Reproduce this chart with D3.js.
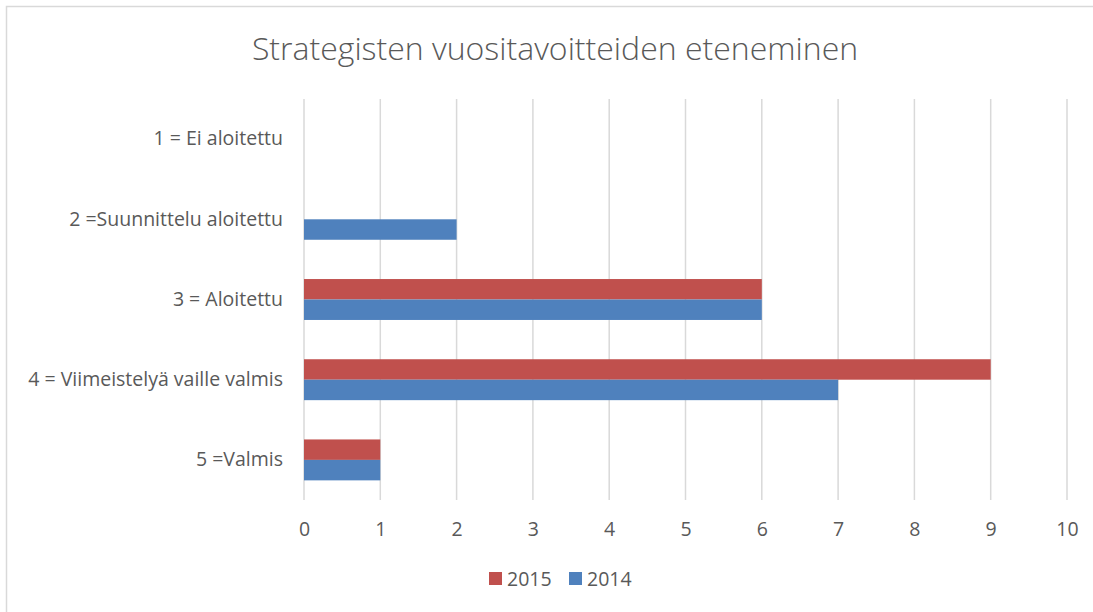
<!DOCTYPE html>
<html>
<head>
<meta charset="utf-8">
<script src="https://cdn.jsdelivr.net/npm/d3@7"></script>
<style>
  body { margin: 0; background: #fff; }
  text { font-family: "Open Sans", "Noto Sans", sans-serif; fill: #595959; }
</style>
</head>
<body>
<div id="chart"></div>
<script>
// Chart data
const categories = ["1 = Ei aloitettu", "2 =Suunnittelu aloitettu", "3 = Aloitettu", "4 = Viimeistelyä vaille valmis", "5 =Valmis"];
const seriesNames = ["2015", "2014"];
const values2015 = [0, 0, 6, 9, 1];
const values2014 = [0, 2, 6, 7, 1];
const xTicks = [0, 1, 2, 3, 4, 5, 6, 7, 8, 9, 10];
const colors = { "2015": "#C0504D", "2014": "#4F81BD" };

const W = 1093, H = 612;
const margin = { top: 99, right: 26, bottom: 112, left: 304 };
const width = W - margin.left - margin.right;
const height = H - margin.top - margin.bottom;
const labelSize = "19.5px";

const svg = d3.select("#chart").append("svg")
  .attr("width", W)
  .attr("height", H);

// chart frame (only top and left edges visible)
svg.append("rect")
  .attr("x", 6.5).attr("y", 6.5)
  .attr("width", W + 20).attr("height", H + 20)
  .attr("fill", "none")
  .attr("stroke", "#d9d9d9")
  .attr("stroke-width", 1.5);

svg.append("text")
  .attr("x", 555)
  .attr("y", 60)
  .attr("text-anchor", "middle")
  .style("font-size", "32px")
  .style("font-weight", 300)
  .text("Strategisten vuositavoitteiden eteneminen");

const g = svg.append("g")
  .attr("transform", `translate(${margin.left}, ${margin.top})`);

const xScale = d3.scaleLinear().domain([0, 10]).range([0, width]);
const yScale = d3.scaleBand().domain(categories).range([0, height]).padding(0);
const ySub = d3.scaleBand().domain(seriesNames)
  .range([0, yScale.bandwidth()])
  .paddingInner(0)
  .paddingOuter(0.96);

// gridlines
g.append("g")
  .selectAll("line")
  .data(xTicks)
  .join("line")
  .attr("x1", d => xScale(d))
  .attr("x2", d => xScale(d))
  .attr("y1", 0)
  .attr("y2", height)
  .attr("stroke", "#d9d9d9")
  .attr("stroke-width", 1.5);

// x axis labels
const xAxis = d3.axisBottom(xScale).tickValues(xTicks).tickSize(0).tickPadding(22);
g.append("g")
  .attr("transform", `translate(0, ${height})`)
  .call(xAxis)
  .call(s => s.select(".domain").remove())
  .selectAll("text")
  .style("font-size", labelSize)
  .style("font-family", "\"Open Sans\", sans-serif")
  .attr("fill", "#595959");

// y axis labels
const yAxis = d3.axisLeft(yScale).tickSize(0).tickPadding(21);
g.append("g")
  .call(yAxis)
  .call(s => s.select(".domain").remove())
  .selectAll("text")
  .style("font-size", labelSize)
  .style("font-family", "\"Open Sans\", sans-serif")
  .attr("fill", "#595959");

// bars
const rows = categories.map((c, i) => ({ cat: c, "2015": values2015[i], "2014": values2014[i] }));

const groups = g.append("g")
  .selectAll("g")
  .data(rows)
  .join("g")
  .attr("transform", d => `translate(0, ${yScale(d.cat)})`);

groups.selectAll("rect")
  .data(d => seriesNames.map(s => ({ series: s, value: d[s] })))
  .join("rect")
  .attr("x", xScale(0))
  .attr("y", d => ySub(d.series))
  .attr("width", d => xScale(d.value) - xScale(0))
  .attr("height", ySub.bandwidth())
  .attr("fill", d => colors[d.series]);

// legend
const legend = svg.append("g").attr("transform", "translate(489, 572)");
const legendX = [0, 80];
seriesNames.forEach((s, i) => {
  const item = legend.append("g").attr("transform", `translate(${legendX[i]}, 0)`);
  item.append("rect")
    .attr("width", 13).attr("height", 13)
    .attr("fill", colors[s]);
  item.append("text")
    .attr("x", 18).attr("y", 13.5)
    .style("font-size", labelSize)
    .text(s);
});
</script>
</body>
</html>
